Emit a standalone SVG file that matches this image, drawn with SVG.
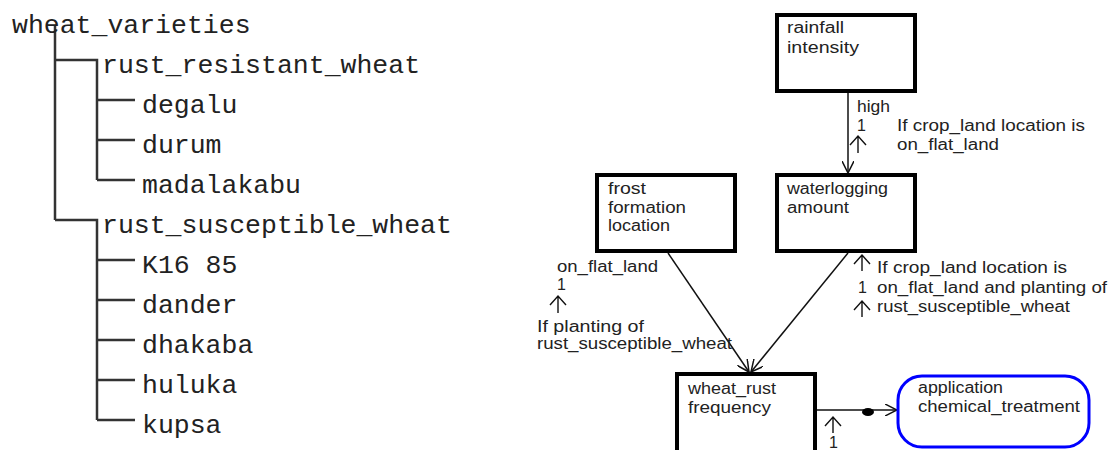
<svg xmlns="http://www.w3.org/2000/svg" width="1110" height="450" viewBox="0 0 1110 450">
<defs>
<style>
.tree{font-family:"Liberation Mono","Courier New",monospace;font-size:26.5px;fill:#222}
.tl{stroke:#333;stroke-width:2.5;fill:none}
.box{fill:#fff;stroke:#000;stroke-width:4}
.oval{fill:#fff;stroke:#0000ff;stroke-width:3}
.t{font-family:"Liberation Sans",Arial,sans-serif;font-size:16px;fill:#222}
.c{stroke:#111;stroke-width:1.5;fill:none}
.up{stroke:#111;stroke-width:1.4;fill:none}
</style>
<marker id="ah" viewBox="0 0 12 12" refX="12" refY="6" markerWidth="12" markerHeight="12" markerUnits="userSpaceOnUse" orient="auto">
<path d="M0,0 L12,6 L0,12" fill="none" stroke="#111" stroke-width="1.5"/>
</marker>
</defs>
<rect width="1110" height="450" fill="#fff"/>

<g id="tree">
<path class="tl" d="M55,25 V220 M55,60 H97 V180 M97,100 H135 M97,140 H135 M97,180 H135 M55,220 H97 V420 M97,260 H135 M97,300 H135 M97,340 H135 M97,380 H135 M97,420 H135"/>
<text class="tree" x="12" y="33">wheat_varieties</text>
<text class="tree" x="102" y="73">rust_resistant_wheat</text>
<text class="tree" x="142" y="113">degalu</text>
<text class="tree" x="142" y="153">durum</text>
<text class="tree" x="142" y="193">madalakabu</text>
<text class="tree" x="102" y="233">rust_susceptible_wheat</text>
<text class="tree" x="142" y="273">K16 85</text>
<text class="tree" x="142" y="313">dander</text>
<text class="tree" x="142" y="353">dhakaba</text>
<text class="tree" x="142" y="393">huluka</text>
<text class="tree" x="142" y="433">kupsa</text>
</g>

<g id="connectors">
<line class="c" x1="848" y1="93" x2="848" y2="173" marker-end="url(#ah)"/>
<line class="c" x1="668" y1="253" x2="749" y2="372" marker-end="url(#ah)"/>
<line class="c" x1="848" y1="253" x2="751" y2="372" marker-end="url(#ah)"/>
<line class="c" x1="817" y1="410" x2="897" y2="410" marker-end="url(#ah)"/>
<ellipse cx="868" cy="412" rx="6" ry="4" fill="#000"/>
<path class="up" d="M858,153 V136 M850,145 L858,136 L866,145"/>
<path class="up" d="M558,313 V296 M550,305 L558,296 L566,305"/>
<path class="up" d="M862,271 V255 M854,264 L862,255 L870,264"/>
<path class="up" d="M862,317 V301 M854,310 L862,301 L870,310"/>
<path class="up" d="M833,433 V417 M825,426 L833,417 L841,426"/>
<text class="t" x="857" y="112" textLength="33" lengthAdjust="spacingAndGlyphs">high</text>
<text class="t" x="857" y="131">1</text>
<text class="t" x="897" y="131" textLength="188" lengthAdjust="spacingAndGlyphs">If crop_land location is</text>
<text class="t" x="897" y="150" textLength="102" lengthAdjust="spacingAndGlyphs">on_flat_land</text>
<text class="t" x="557" y="272" textLength="101" lengthAdjust="spacingAndGlyphs">on_flat_land</text>
<text class="t" x="557" y="290">1</text>
<text class="t" x="537" y="332" textLength="107" lengthAdjust="spacingAndGlyphs">If planting of</text>
<text class="t" x="537" y="349" textLength="195" lengthAdjust="spacingAndGlyphs">rust_susceptible_wheat</text>
<text class="t" x="877" y="273" textLength="190" lengthAdjust="spacingAndGlyphs">If crop_land location is</text>
<text class="t" x="858" y="293">1</text>
<text class="t" x="877" y="293" textLength="230" lengthAdjust="spacingAndGlyphs">on_flat_land and planting of</text>
<text class="t" x="877" y="312" textLength="193" lengthAdjust="spacingAndGlyphs">rust_susceptible_wheat</text>
<text class="t" x="829" y="448">1</text>
</g>

<g id="rainfall_intensity">
<rect class="box" x="777" y="15" width="138" height="76"/>
<text class="t" x="787" y="33" textLength="57" lengthAdjust="spacingAndGlyphs">rainfall</text>
<text class="t" x="787" y="53" textLength="72" lengthAdjust="spacingAndGlyphs">intensity</text>
</g>

<g id="frost_formation_location">
<rect class="box" x="597" y="175" width="138" height="76"/>
<text class="t" x="608" y="194" textLength="38" lengthAdjust="spacingAndGlyphs">frost</text>
<text class="t" x="608" y="213" textLength="78" lengthAdjust="spacingAndGlyphs">formation</text>
<text class="t" x="608" y="231" textLength="62" lengthAdjust="spacingAndGlyphs">location</text>
</g>

<g id="waterlogging_amount">
<rect class="box" x="777" y="175" width="138" height="76"/>
<text class="t" x="787" y="194" textLength="101" lengthAdjust="spacingAndGlyphs">waterlogging</text>
<text class="t" x="787" y="213" textLength="62" lengthAdjust="spacingAndGlyphs">amount</text>
</g>

<g id="wheat_rust_frequency">
<rect class="box" x="677" y="374" width="138" height="90"/>
<text class="t" x="688" y="394" textLength="88" lengthAdjust="spacingAndGlyphs">wheat_rust</text>
<text class="t" x="688" y="413" textLength="83" lengthAdjust="spacingAndGlyphs">frequency</text>
</g>

<g id="application_chemical_treatment">
<rect class="oval" x="898" y="376" width="191" height="71" rx="24" ry="24"/>
<text class="t" x="918" y="393" textLength="85" lengthAdjust="spacingAndGlyphs">application</text>
<text class="t" x="918" y="412" textLength="162" lengthAdjust="spacingAndGlyphs">chemical_treatment</text>
</g>
</svg>
